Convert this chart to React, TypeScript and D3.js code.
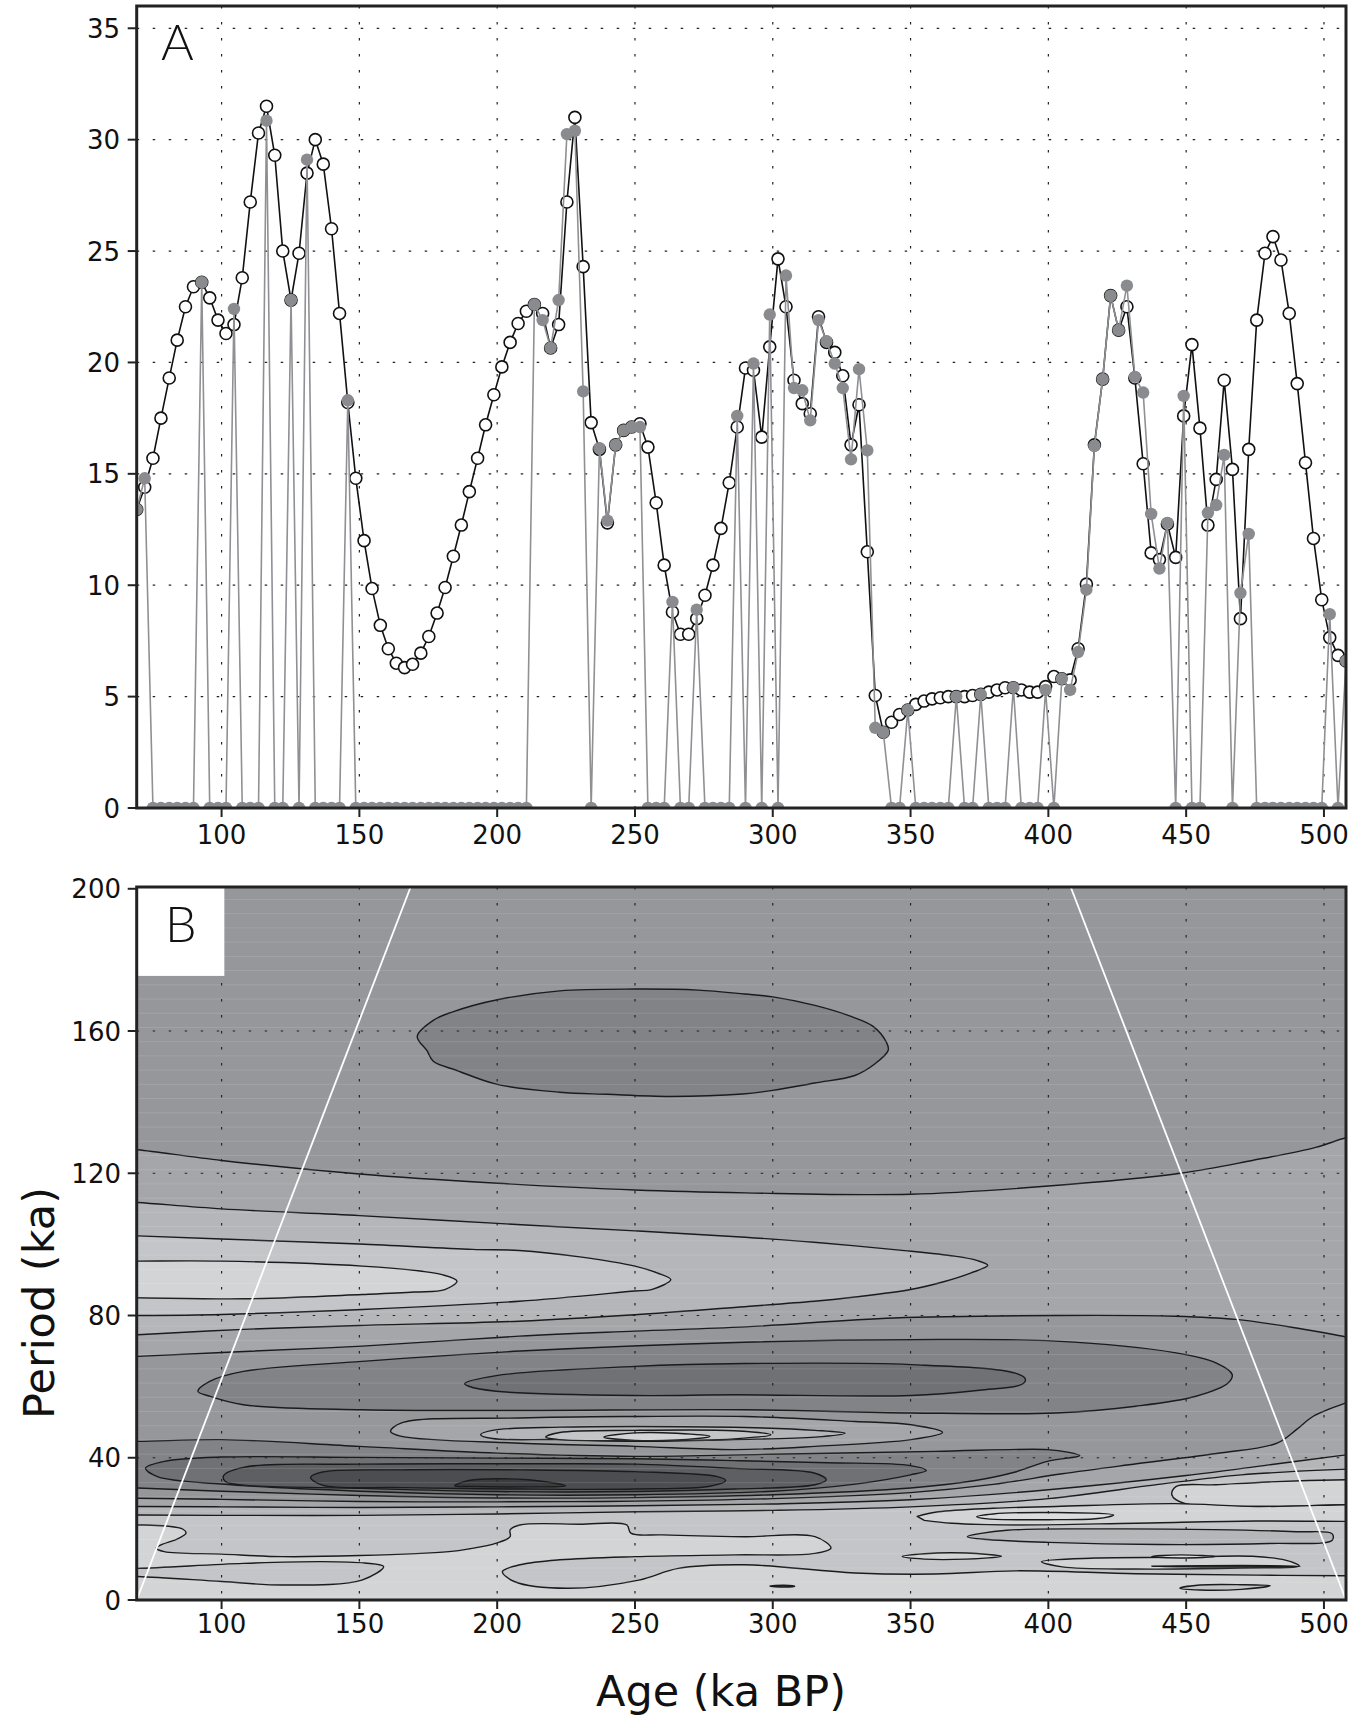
import React from "react";
import * as d3 from "d3";

// ---- panel A data ----
const ages = [
  69.2, 72.1, 75.1, 78.0, 81.0, 83.9, 86.9, 89.8, 92.8, 95.7,
  98.7, 101.6, 104.5, 107.5, 110.4, 113.4, 116.3, 119.3, 122.2, 125.2,
  128.1, 131.0, 134.0, 136.9, 139.9, 142.8, 145.8, 148.7, 151.7, 154.6,
  157.6, 160.5, 163.4, 166.4, 169.3, 172.3, 175.2, 178.2, 181.1, 184.1,
  187.0, 189.9, 192.9, 195.8, 198.8, 201.7, 204.7, 207.6, 210.6, 213.5,
  216.5, 219.4, 222.3, 225.3, 228.2, 231.2, 234.1, 237.1, 240.0, 243.0,
  245.9, 248.8, 251.8, 254.7, 257.7, 260.6, 263.6, 266.5, 269.5, 272.4,
  275.4, 278.3, 281.2, 284.2, 287.1, 290.1, 293.0, 296.0, 298.9, 301.9,
  304.8, 307.7, 310.7, 313.6, 316.6, 319.5, 322.5, 325.4, 328.4, 331.3,
  334.3, 337.2, 340.1, 343.1, 346.0, 349.0, 351.9, 354.9, 357.8, 360.8,
  363.7, 366.6, 369.6, 372.5, 375.5, 378.4, 381.4, 384.3, 387.3, 390.2,
  393.2, 396.1, 399.0, 402.0, 404.9, 407.9, 410.8, 413.8, 416.7, 419.7,
  422.6, 425.5, 428.5, 431.4, 434.4, 437.3, 440.3, 443.2, 446.2, 449.1,
  452.1, 455.0, 457.9, 460.9, 463.8, 466.8, 469.7, 472.7, 475.6, 478.6,
  481.5, 484.4, 487.4, 490.3, 493.3, 496.2, 499.2, 502.1, 505.1, 508.0,
];

const openSeries = [
  13.4, 14.4, 15.7, 17.5, 19.3, 21.0, 22.5, 23.4, 23.6, 22.9,
  21.9, 21.3, 21.7, 23.8, 27.2, 30.3, 31.5, 29.3, 25.0, 22.8,
  24.9, 28.5, 30.0, 28.9, 26.0, 22.2, 18.2, 14.8, 12.0, 9.85,
  8.2, 7.15, 6.5, 6.3, 6.45, 6.95, 7.7, 8.75, 9.9, 11.3,
  12.7, 14.2, 15.7, 17.2, 18.55, 19.8, 20.9, 21.75, 22.3, 22.6,
  22.2, 20.65, 21.7, 27.2, 31.0, 24.3, 17.3, 16.1, 12.8, 16.3,
  16.95, 17.1, 17.25, 16.2, 13.7, 10.9, 8.8, 7.8, 7.8, 8.5,
  9.55, 10.9, 12.55, 14.6, 17.1, 19.75, 19.65, 16.65, 20.7, 24.65,
  22.5, 19.2, 18.15, 17.7, 22.05, 20.9, 20.45, 19.4, 16.3, 18.1,
  11.5, 5.05, 3.4, 3.85, 4.2, 4.4, 4.65, 4.8, 4.9, 4.95,
  5.0, 5.0, 5.0, 5.05, 5.1, 5.2, 5.3, 5.4, 5.4, 5.3,
  5.2, 5.2, 5.45, 5.9, 5.8, 5.75, 7.15, 10.05, 16.3, 19.25,
  23.0, 21.45, 22.5, 19.3, 15.45, 11.45, 11.15, 12.75, 11.25, 17.6,
  20.8, 17.05, 12.7, 14.75, 19.2, 15.2, 8.5, 16.1, 21.9, 24.9,
  25.65, 24.6, 22.2, 19.05, 15.5, 12.1, 9.35, 7.65, 6.85, 6.6,
];

const graySeries = [
  13.4, 14.8, 0, 0, 0, 0, 0, 0, 23.6, 0,
  0, 0, 22.4, 0, 0, 0, 30.85, 0, 0, 22.8,
  0, 29.1, 0, 0, 0, 0, 18.3, 0, 0, 0,
  0, 0, 0, 0, 0, 0, 0, 0, 0, 0,
  0, 0, 0, 0, 0, 0, 0, 0, 0, 22.6,
  21.9, 20.65, 22.8, 30.25, 30.4, 18.7, 0, 16.15, 12.9, 16.3,
  16.95, 17.1, 17.1, 0, 0, 0, 9.25, 0, 0, 8.9,
  0, 0, 0, 0, 17.6, 0, 19.95, 0, 22.15, 0,
  23.9, 18.85, 18.75, 17.4, 21.9, 20.95, 19.95, 18.85, 15.65, 19.7,
  16.05, 3.6, 3.4, 0, 0, 4.4, 0, 0, 0, 0,
  0, 5.0, 0, 0, 5.1, 0, 0, 0, 5.4, 0,
  0, 0, 5.3, 0, 5.8, 5.3, 7.0, 9.8, 16.25, 19.25,
  23.0, 21.45, 23.45, 19.35, 18.65, 13.2, 10.75, 12.8, 0, 18.5,
  0, 0, 13.25, 13.6, 15.85, 0, 9.65, 12.3, 0, 0,
  0, 0, 0, 0, 0, 0, 0, 8.7, 0, 6.6,
];

const xTicks = [100, 150, 200, 250, 300, 350, 400, 450, 500];
const yTicksA = [0, 5, 10, 15, 20, 25, 30, 35];
const yTicksB = [0, 40, 80, 120, 160, 200];

// ---- panel B: contour outlines, [age, period] ----
const c1Upper = [[60, 127.2], [69.6, 126.6], [100, 123.6], [150, 119.8], [200, 117.2], [250, 115.3], [290, 114.5], [350, 114.1], [400, 116.4], [448, 120], [474, 123.6], [497, 127.3], [508, 130], [515, 131]];
const c8Lower = [[60, 68.2], [69.6, 68.5], [100, 69.6], [151, 71.4], [208, 74.2], [250, 75.6], [290, 76.8], [344, 79.3], [403, 80], [446, 79.8], [468, 78.9], [490, 76.5], [508, 74], [515, 73]];
const tip378 = [[60, 112.2], [69.6, 111.8], [100, 110], [150, 108.1], [200, 105.9], [250, 103.8], [290, 102], [315, 100.6], [346, 98.4], [366, 96.7], [374, 95.5], [378, 94.1], [372, 92], [362, 89.5], [350, 87.3], [330, 85.2], [315, 84], [288, 82.4], [250, 80.2], [208, 78.4], [150, 77.2], [108, 76.1], [69.6, 74.6], [60, 74.2]];
const tip263 = [[60, 102.6], [69.6, 102.4], [100, 101.5], [150, 100.1], [191, 98.6], [208, 98.3], [230, 96.5], [250, 93.9], [258, 92], [263, 90.1], [256, 87.3], [250, 86.9], [208, 84], [151, 81.7], [100, 80.3], [69.6, 80], [60, 80]];
const tip185 = [[60, 95.3], [69.6, 95.3], [100, 95.3], [151, 93.9], [172, 92.5], [180, 91.5], [185.4, 89.7], [181, 87.3], [170, 86.6], [151, 85.9], [108, 84.7], [69.6, 85], [60, 85]];
const cell160 = [[171, 158.5], [176.8, 163], [183.9, 165.4], [200, 168.8], [222.7, 171.3], [250, 171.8], [272.9, 171.5], [289.8, 170.4], [300, 169.6], [315.3, 167.2], [328.4, 164.1], [336.4, 161.3], [341.2, 156.9], [341.9, 154.6], [337.1, 150.8], [329.8, 147.5], [315.3, 145.4], [300, 143.3], [289, 142.3], [262.8, 141.6], [239.9, 142.2], [222.7, 142.8], [200, 145], [185.4, 148.9], [176.8, 151.5], [174.6, 154.4]];
const band60 = [[91.4, 58.7], [95.7, 61.5], [107.9, 64.3], [151, 67.1], [208.3, 70], [289.8, 72.5], [350.2, 73.2], [402.6, 72.8], [446.3, 69.5], [460.8, 66.7], [466.7, 63.4], [465.2, 61], [453.6, 57.3], [431.7, 54.5], [402.6, 52.6], [350.2, 52.6], [289.8, 53.5], [208.3, 53.3], [151, 53.5], [107.9, 54.9], [95.7, 57.3]];
const core60 = [[188.2, 60.8], [199.7, 63.1], [250, 65.7], [289.8, 66.5], [350.2, 66.2], [388, 63.8], [391.7, 62], [390.2, 60.6], [375, 59], [350.2, 57.5], [286.2, 57.7], [250, 57.5], [199.7, 58.7], [189.7, 60.1]];
const ring45a = [[161.3, 47.4], [165.3, 49.8], [208.3, 51.2], [250, 51.6], [289.8, 51.6], [329.8, 50.2], [350.2, 49.3], [361.6, 47.1], [350.2, 45.1], [315.3, 43.2], [286.2, 42.3], [250, 43.2], [208.3, 44.1], [165.3, 46]];
const ring45b = [[194, 46.5], [198.3, 47.7], [222.7, 48.6], [250, 48.8], [289.8, 48.5], [315.3, 47.7], [326.2, 46.9], [315.3, 45.8], [286.2, 45.1], [250, 44.6], [222.7, 45.1], [198.3, 45.4]];
const ring45c = [[217.6, 45.8], [222.7, 47.1], [250, 47.7], [286, 47.6], [299.3, 46.5], [286, 45.3], [250, 44.8], [222.7, 45.1]];
const ring45d = [[238.7, 45.8], [250, 47], [265, 46.9], [277.2, 46], [265, 45], [250, 44.9]];
const dark1 = [[60, 44.8], [69.6, 44.6], [100, 45.1], [150, 43.2], [200, 41.3], [250, 40.4], [300, 41], [359, 41.8], [399.7, 42.3], [407, 41.6], [411.4, 40.6], [399.7, 39], [388, 36], [373.5, 33.6], [350, 31.5], [300, 29.6], [250, 28.8], [200, 28.7], [150, 29.4], [100, 30.6], [69.6, 31.5], [60, 31.7]];
const dark2 = [[72.4, 37.1], [79.2, 39], [100, 40.2], [150, 40.1], [200, 39.9], [250, 39.7], [286, 39.2], [320, 38.6], [350, 37.8], [355.7, 36.4], [350, 35.2], [330, 32.6], [300, 30.6], [250, 29.6], [200, 29.6], [150, 30.6], [100, 32.6], [76.7, 34.7]];
const dark3 = [[100.7, 34.9], [107.9, 37.3], [151, 38.2], [208, 38.3], [250, 38.2], [286, 37], [315, 35.7], [319.4, 33.8], [315.3, 32.4], [286, 31.2], [250, 30.5], [200, 30.5], [151, 31.4], [108, 32.3], [101.4, 33.3]];
const dark4 = [[132.3, 34.5], [136.6, 36], [165.3, 36.6], [208.3, 36.6], [250, 36.1], [280, 34.7], [282.9, 33.6], [277.2, 32], [250, 31.2], [208.3, 31.2], [165.3, 31.6], [136.6, 32.3]];
const dark5 = [[184.6, 32.1], [189.7, 33.6], [211.2, 33.8], [224.8, 32.1], [211.2, 31.8], [189.7, 31.9]];
const edgeB1 = [[60, 28.6], [69.6, 28.6], [100, 28.3], [150, 27.7], [200, 27.6], [250, 27.8], [300, 28.5], [350, 30.2], [380, 32.5], [405, 35.5], [432, 38.3], [461, 41.2], [483, 44.1], [490, 47.9], [496, 51.6], [508, 55.4], [515, 57]];
const edgeB2 = [[60, 26.3], [69.6, 26.3], [100, 26.2], [150, 26], [200, 26.2], [250, 26.5], [300, 27], [350, 28.2], [400, 31], [450, 35], [480, 38], [508, 40.8], [515, 41.5]];
const edgeB3 = [[60, 23.9], [69.6, 23.9], [100, 23.8], [150, 23.8], [200, 24.2], [250, 24.8], [300, 25.2], [350, 26.2], [400, 28.5], [440, 32.5], [470, 35.2], [508, 36.8], [515, 37]];
const edgeB4 = [[60, 21.1], [69.6, 21.1], [80, 20.8], [86, 19.9], [87.1, 18.8], [84, 17.2], [78, 15.5], [76.3, 14.6], [79.2, 13.6], [100, 12.9], [122, 12.2], [150, 12.5], [182.5, 13.6], [190, 14.4], [199.7, 16], [204.7, 17.8], [204.7, 19.7], [208.3, 21.1], [230, 21.3], [247, 21.1], [248.5, 18.8], [260, 18.3], [289.8, 17.8], [315.3, 17.8], [321.1, 14.6], [315.3, 13.1], [286.2, 12.7], [250, 12.2], [222.7, 11.3], [208.3, 9.9], [201.9, 8], [206.2, 5.2], [225.5, 3.3], [251.4, 5.6], [265.7, 8.9], [289.8, 9.9], [329.8, 7.6], [359, 7.3], [388, 8.2], [431.7, 7.4], [475.4, 7], [508, 6.8], [515, 6.8]];
const lowTip = [[60, 8.9], [69.6, 8.9], [107.9, 10.3], [136.6, 10.8], [152, 10.4], [158.8, 9.4], [150.9, 5.6], [122.2, 4.2], [100, 5.2], [69.6, 6.6], [60, 6.6]];
const rightLight = [[515, 33.8], [508, 33.8], [480, 33.2], [460.8, 32.4], [446.3, 31.9], [444.8, 29.6], [449.2, 27.2], [475.4, 26.3], [508, 26.8], [515, 26.8]];
const midLight = [[352.4, 23.5], [360, 24.8], [380, 25.8], [402.6, 26.3], [446, 27.1], [475.4, 26.3], [508, 26.8], [515, 26.8], [515, 22.1], [508, 22.1], [475, 22.2], [431.7, 21.6], [388, 21.1], [365, 21.6], [355, 22.4]];
const midCore = [[374, 23.4], [380, 24.2], [402.6, 24.6], [423.7, 23.9], [418, 22.9], [402.6, 22.6], [378, 22.8]];
const midDark = [[370.6, 17.8], [385, 19.6], [420, 20], [460, 19.8], [490, 19.2], [503, 18.6], [503, 16.8], [480, 15.9], [440, 15.6], [400, 16.2], [378, 17]];
const smallA = [[347, 12.2], [355, 13], [370, 13.2], [383, 12.3], [370, 11.5], [355, 11.5]];
const smallB = [[397.5, 10.8], [417, 11.8], [445, 12], [474, 12.3], [486, 11.2], [491, 9.6], [470, 9], [431.7, 8.7], [405, 9.3]];
const smallC = [[437.5, 12.2], [448, 12.7], [460.8, 12.2], [448, 11.8]];
const sliver = [[437.5, 9.5], [470, 9.7], [491.4, 9.5], [470, 9.25]];
const bottomCell = [[447.7, 3.3], [455, 4.2], [470, 4.3], [480.5, 4], [470, 3], [455, 2.8]];
const tinyCell = [[299, 3.9], [304, 4.15], [308, 3.9], [304, 3.65]];
const coiLeft = [[69.2, 0], [168.6, 200.5]];
const coiRight = [[408.1, 200.5], [508, 0]];

const shade = {
  L00: "#dcdddf",
  L0: "#d3d4d6",
  L1: "#c4c5c8",
  L2: "#b5b6b9",
  L3: "#a5a6a9",
  L4: "#96979b",
  L5: "#828387",
  L6: "#707175",
  L7: "#5e5f63",
  L8: "#4c4d51",
  L9: "#3b3c40",
};

export default function App() {
  const left = 136.7;
  const right = 1346;
  const x = d3.scaleLinear().domain([69.2, 508]).range([left, right]);
  const yA = d3.scaleLinear().domain([0, 36]).range([808, 6]);
  const yB = d3.scaleLinear().domain([0, 200.5]).range([1600, 887]);

  const seriesLine = d3
    .line<number>()
    .x((_, i) => x(ages[i]))
    .y((v) => yA(v));

  const open = d3
    .line<number[]>()
    .x((d) => x(d[0]))
    .y((d) => yB(d[1]))
    .curve(d3.curveCatmullRom.alpha(0.5));
  const closed = d3
    .line<number[]>()
    .x((d) => x(d[0]))
    .y((d) => yB(d[1]))
    .curve(d3.curveCatmullRomClosed.alpha(0.5));

  const island = (p: number[][]) => closed(p) as string;
  const edge = (p: number[][]) => open(p) + "Z";
  const below = (p: number[][]) =>
    open(p) + `L${x(515)},${yB(-6)}L${x(60)},${yB(-6)}Z`;
  const band = (up: number[][], low: number[][]) =>
    open(up) + (open([...low].reverse()) as string).replace(/^M/, "L") + "Z";

  const regions = [
    { d: band(c1Upper, c8Lower), fill: shade.L3 },
    { d: edge(tip378), fill: shade.L2 },
    { d: edge(tip263), fill: shade.L1 },
    { d: edge(tip185), fill: shade.L0 },
    { d: below(edgeB1), fill: shade.L3 },
    { d: below(edgeB2), fill: shade.L2 },
    { d: below(edgeB3), fill: shade.L1 },
    { d: below(edgeB4), fill: shade.L0 },
    { d: edge(lowTip), fill: shade.L1 },
    { d: edge(rightLight), fill: shade.L0 },
    { d: edge(midLight), fill: shade.L0 },
    { d: island(midCore), fill: shade.L00 },
    { d: island(midDark), fill: shade.L2 },
    { d: island(smallA), fill: shade.L0 },
    { d: island(smallB), fill: shade.L0 },
    { d: island(smallC), fill: shade.L00 },
    { d: island(sliver), fill: "#555" },
    { d: island(bottomCell), fill: shade.L1 },
    { d: island(tinyCell), fill: "#555" },
    { d: island(band60), fill: shade.L5 },
    { d: island(core60), fill: shade.L6 },
    { d: island(ring45a), fill: shade.L3 },
    { d: island(ring45b), fill: shade.L2 },
    { d: island(ring45c), fill: shade.L1 },
    { d: island(ring45d), fill: shade.L0 },
    { d: edge(dark1), fill: shade.L5 },
    { d: island(dark2), fill: shade.L6 },
    { d: island(dark3), fill: shade.L7 },
    { d: island(dark4), fill: shade.L8 },
    { d: island(dark5), fill: shade.L9 },
    { d: island(cell160), fill: shade.L5 },
  ];

  const stripes = d3.range(1, 200, 4);
  const tickFont = { fontFamily: "'DejaVu Sans', sans-serif", fontSize: 26, fill: "#111" };
  const titleFont = { fontFamily: "'DejaVu Sans', sans-serif", fontSize: 43, fill: "#111" };
  const letterFont = { fontFamily: "Lato, 'DejaVu Sans', sans-serif", fontWeight: 300, fontSize: 50, fill: "#111" };

  return (
    <svg
      width={1364}
      height={1717}
      style={{ position: "absolute", left: 0, top: 0, display: "block", background: "#fff" }}
    >
      <defs>
        <clipPath id="clipA">
          <rect x={left} y={6} width={right - left} height={802} />
        </clipPath>
        <clipPath id="clipB">
          <rect x={left} y={887} width={right - left} height={713} />
        </clipPath>
      </defs>

      {/* ---------- panel A ---------- */}
      <g stroke="#222" strokeWidth={1.2}>
        {xTicks.map((t) => (
          <line key={"gxa" + t} x1={x(t)} x2={x(t)} y1={6} y2={808} strokeDasharray="2.5,13.5" />
        ))}
        {yTicksA.filter((t) => t > 0).map((t) => (
          <line key={"gya" + t} x1={left} x2={right} y1={yA(t)} y2={yA(t)} strokeDasharray="2.5,13.5" />
        ))}
      </g>
      <g clipPath="url(#clipA)">
        <path d={seriesLine(openSeries) as string} fill="none" stroke="#111" strokeWidth={1.6} />
        {openSeries.map((v, i) => (
          <circle key={"o" + i} cx={x(ages[i])} cy={yA(v)} r={6} fill="#fff" stroke="#111" strokeWidth={1.6} />
        ))}
        <path d={seriesLine(graySeries) as string} fill="none" stroke="#8f9093" strokeWidth={1.6} />
        {graySeries.map((v, i) => (
          <circle key={"g" + i} cx={x(ages[i])} cy={yA(v)} r={6.2} fill="#8a8b8e" />
        ))}
      </g>
      <rect x={left} y={6} width={right - left} height={802} fill="none" stroke="#222" strokeWidth={3} />
      <g stroke="#222" strokeWidth={2}>
        {yTicksA.map((t) => (
          <line key={"tya" + t} x1={left - 9} x2={left} y1={yA(t)} y2={yA(t)} />
        ))}
        {xTicks.map((t) => (
          <line key={"txa" + t} x1={x(t)} x2={x(t)} y1={808} y2={817} />
        ))}
      </g>
      {yTicksA.map((t) => (
        <text key={"lya" + t} x={120} y={yA(t) + 9.5} textAnchor="end" {...tickFont}>
          {t}
        </text>
      ))}
      {xTicks.map((t) => (
        <text key={"lxa" + t} x={x(t)} y={844} textAnchor="middle" {...tickFont}>
          {t}
        </text>
      ))}
      <text x={161} y={60} {...letterFont}>
        A
      </text>

      {/* ---------- panel B ---------- */}
      <g clipPath="url(#clipB)">
        <rect x={left} y={887} width={right - left} height={713} fill={shade.L4} />
        {regions.map((r, i) => (
          <path key={"r" + i} d={r.d} fill={r.fill} stroke="#1b1b1b" strokeWidth={1.4} strokeLinejoin="round" />
        ))}
        {stripes.map((p) => (
          <line key={"s" + p} x1={left} x2={right} y1={yB(p)} y2={yB(p)} stroke="#fff" strokeOpacity={0.12} strokeWidth={1} />
        ))}
        <g stroke="#222" strokeWidth={1.2}>
          {xTicks.map((t) => (
            <line key={"gxb" + t} x1={x(t)} x2={x(t)} y1={887} y2={1600} strokeDasharray="2.5,13.5" />
          ))}
          {yTicksB.filter((t) => t > 0 && t < 200).map((t) => (
            <line key={"gyb" + t} x1={left} x2={right} y1={yB(t)} y2={yB(t)} strokeDasharray="2.5,13.5" />
          ))}
        </g>
        {[coiLeft, coiRight].map((c, i) => (
          <line key={"coi" + i} x1={x(c[0][0])} y1={yB(c[0][1])} x2={x(c[1][0])} y2={yB(c[1][1])} stroke="#fff" strokeWidth={1.8} />
        ))}
        <rect x={left} y={yB(200.5)} width={x(101) - left} height={yB(175.5) - yB(200.5)} fill="#fff" />
      </g>
      <rect x={left} y={887} width={right - left} height={713} fill="none" stroke="#222" strokeWidth={3} />
      <g stroke="#222" strokeWidth={2}>
        {yTicksB.map((t) => (
          <line key={"tyb" + t} x1={left - 9} x2={left} y1={yB(t)} y2={yB(t)} />
        ))}
        {xTicks.map((t) => (
          <line key={"txb" + t} x1={x(t)} x2={x(t)} y1={1600} y2={1609} />
        ))}
      </g>
      {yTicksB.map((t) => (
        <text key={"lyb" + t} x={121} y={yB(t) + 9.5} textAnchor="end" {...tickFont}>
          {t}
        </text>
      ))}
      {xTicks.map((t) => (
        <text key={"lxb" + t} x={x(t)} y={1633} textAnchor="middle" {...tickFont}>
          {t}
        </text>
      ))}
      <text x={165} y={942} {...letterFont}>
        B
      </text>

      {/* axis titles */}
      <text x={721} y={1706} textAnchor="middle" {...titleFont}>
        Age (ka BP)
      </text>
      <text
        transform={`translate(54,${1303}) rotate(-90)`}
        textAnchor="middle"
        {...titleFont}
      >
        Period (ka)
      </text>
    </svg>
  );
}
